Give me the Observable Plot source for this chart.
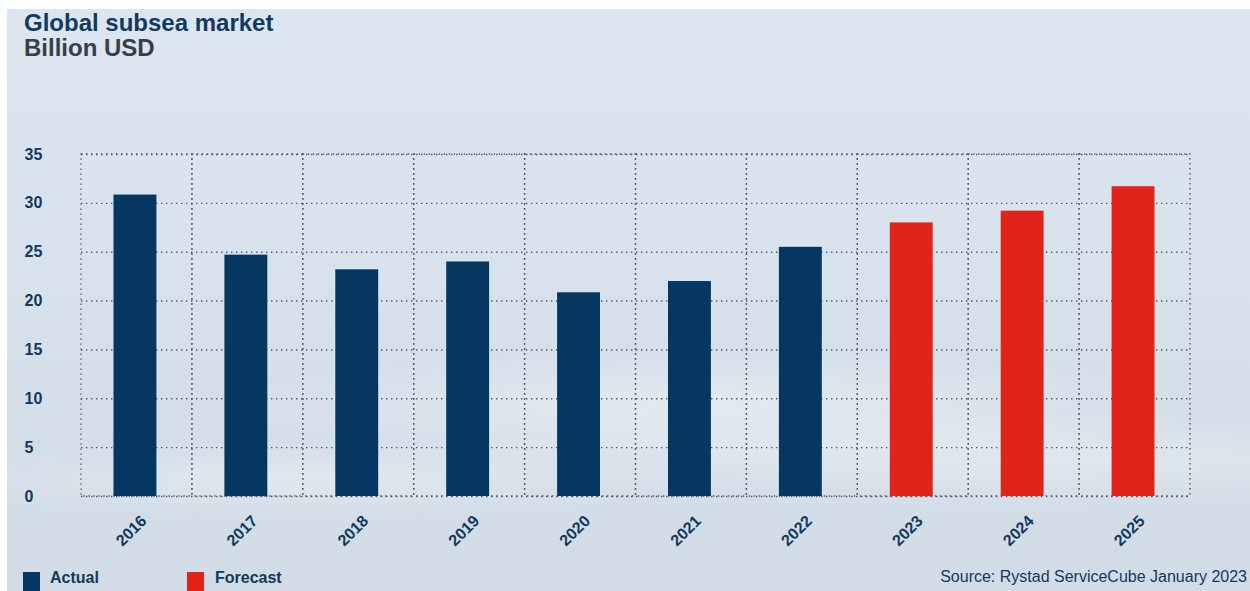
<!DOCTYPE html>
<html><head><meta charset="utf-8">
<script src="https://cdn.jsdelivr.net/npm/d3@7"></script>
<script src="https://cdn.jsdelivr.net/npm/@observablehq/plot@0.6"></script>
<style>
html,body{margin:0;padding:0;background:#fff}
body{width:1250px;height:591px;overflow:hidden;position:relative;font-family:"Liberation Sans",Arial,sans-serif}
#panel{position:absolute;left:7px;top:9px;right:0;bottom:0;
 background:
  radial-gradient(ellipse 500px 60px at 700px 400px, rgba(255,255,255,0.35), rgba(255,255,255,0)),
  radial-gradient(ellipse 600px 50px at 1000px 450px, rgba(255,255,255,0.3), rgba(255,255,255,0)),
  radial-gradient(ellipse 400px 40px at 300px 470px, rgba(255,255,255,0.3), rgba(255,255,255,0)),
  linear-gradient(180deg,#dce6f0 0%,#d8e2ed 45%,#d4dee9 70%,#d2dce6 100%);}
#title{position:absolute;left:24px;top:10px;font-weight:bold;font-size:24px;line-height:25px}
#title .t1{color:#12395e}
#title .t2{color:#3a3d42}
#chart{position:absolute;left:0;top:70px}
.leg{position:absolute;top:569px;font-weight:bold;font-size:16px;color:#12395e}
.sw{position:absolute;top:572px;width:17px;height:22px}
#source{position:absolute;right:3px;top:568px;font-size:16px;color:#12395e}
</style></head>
<body>
<div id="panel"></div>
<div id="title"><div class="t1">Global subsea market</div><div class="t2">Billion USD</div></div>
<div id="chart"></div>
<div class="sw" style="left:23px;background:#053761"></div>
<div class="leg" style="left:50px">Actual</div>
<div class="sw" style="left:187px;background:#e2231a"></div>
<div class="leg" style="left:215px">Forecast</div>
<div id="source">Source: Rystad ServiceCube January 2023</div>
<script>
const years = ["2016","2017","2018","2019","2020","2021","2022","2023","2024","2025"];
const values = [30.85, 24.7, 23.2, 24.0, 20.85, 22.0, 25.5, 28.0, 29.2, 31.7];
const kinds = ["Actual","Actual","Actual","Actual","Actual","Actual","Actual","Forecast","Forecast","Forecast"];
const yTicks = [0,5,10,15,20,25,30,35];
const seriesNames = ["Actual","Forecast"];
const seriesColors = ["#053761","#e2231a"];

const data = years.map((y,i)=>({year:y, value:values[i], kind:kinds[i]}));
const yMax = yTicks[yTicks.length-1];
const grid = {stroke:"#4f5a68", strokeWidth:1.4, strokeDasharray:"1.4,3.6"};

const chart = Plot.plot({
  width:1250, height:490,
  marginTop:84, marginBottom:64, marginLeft:81, marginRight:60,
  style:{background:"transparent", fontFamily:"'Liberation Sans', Arial, sans-serif"},
  x:{domain:years, padding:0, round:false, label:null},
  y:{domain:[0,yMax], label:null},
  color:{domain:seriesNames, range:seriesColors},
  marks:[
    Plot.ruleY(yTicks, grid),
    Plot.barY(years, {x:d=>d, y:()=>yMax, fill:"none", ...grid}),
    Plot.barY(data, {x:"year", y:"value", fill:"kind", insetLeft:32.5, insetRight:35.5}),
    Plot.axisY(yTicks, {tickSize:0, textAnchor:"start", dx:-48, fontWeight:"bold", fontSize:16, fill:"#12395e", label:null}),
    Plot.axisX({tickSize:0, tickRotate:-45, dx:7, dy:10, fontWeight:"bold", fontSize:16, fill:"#12395e", label:null})
  ]
});
document.getElementById("chart").appendChild(chart);
</script>
</body></html>
